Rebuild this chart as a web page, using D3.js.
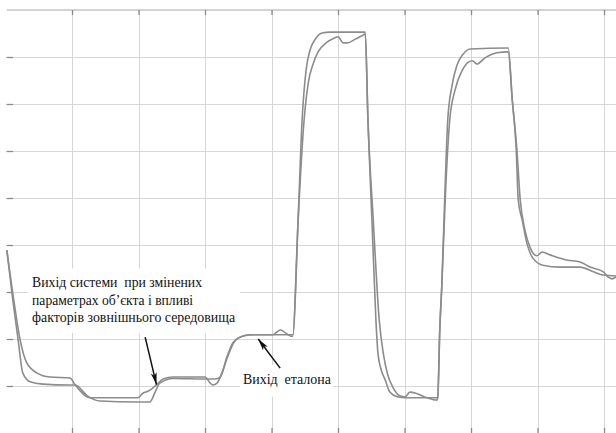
<!DOCTYPE html>
<html>
<head>
<meta charset="utf-8">
<script src="https://cdn.jsdelivr.net/npm/d3@7"></script>
<style>
  html, body { margin: 0; padding: 0; background: #fff; }
  svg { display: block; }
  .ax line { stroke: #8a8a8a; stroke-width: 1.3; }
  .ax path { display: none; }
  .ann { font-family: "Liberation Serif", "DejaVu Serif", serif; font-size: 15px; fill: #111; white-space: pre; }
</style>
</head>
<body>
<div id="chart"></div>
<script>
// grid positions (in grid units)
const xTicks = [1, 2, 3, 4, 5, 6, 7, 8, 9];
const yTicks = [1, 2, 3, 4, 5, 6, 7, 8];

// reference output ("Вихід еталона")
const refX = [0.02, 0.11, 0.19, 0.26, 0.37, 0.56, 0.97, 1.05, 1.23, 1.42, 1.99, 2.17, 2.25, 2.32, 2.52, 3.0, 3.15, 3.23, 3.33, 3.42, 3.53, 3.68, 4.32,
  4.40, 4.46, 4.52, 4.58, 4.65, 4.76, 4.88, 5.41,
  5.45, 5.51, 5.57, 5.60, 5.65, 5.71, 5.78, 5.89, 6.01, 6.49,
  6.50, 6.53, 6.56, 6.61, 6.65, 6.71, 6.79, 6.88, 6.99, 7.56,
  7.62, 7.68, 7.71, 7.77, 7.84, 7.93, 8.08, 8.34, 8.64, 8.84, 8.99, 9.18];
const refY = [3.89, 2.83, 1.98, 1.28, 1.09, 1.04, 1.02, 1.02, 0.79, 0.68, 0.66, 0.66, 0.87, 1.06, 1.16, 1.15, 1.15, 1.19, 1.62, 1.92, 2.04, 2.09, 2.09,
  4.53, 6.66, 7.72, 8.15, 8.36, 8.51, 8.53, 8.53,
  6.66, 4.53, 2.40, 1.70, 1.34, 1.13, 0.87, 0.77, 0.75, 0.75,
  0.75, 2.19, 3.11, 5.23, 6.66, 7.36, 7.83, 8.06, 8.17, 8.19,
  7.09, 6.02, 4.96, 4.53, 4.04, 3.72, 3.57, 3.53, 3.53, 3.43, 3.36, 3.34];

// system output with changed object parameters
const sysX = [0.02, 0.14, 0.22, 0.32, 0.47, 0.67, 0.97, 1.05, 1.27, 1.42, 1.99, 2.07, 2.14, 2.20, 2.28, 2.37, 2.52, 3.0, 3.08, 3.12, 3.18, 3.26, 3.35, 3.45, 3.56, 3.75, 4.02, 4.08, 4.14, 4.21, 4.29, 4.32,
  4.40, 4.49, 4.56, 4.62, 4.70, 4.82, 4.94, 5.0, 5.08, 5.14, 5.26, 5.38, 5.41,
  5.45, 5.53, 5.62, 5.68, 5.75, 5.83, 5.93, 6.01, 6.08, 6.20, 6.34, 6.49,
  6.50, 6.53, 6.56, 6.62, 6.68, 6.76, 6.87, 6.96, 7.02, 7.09, 7.21, 7.39, 7.56,
  7.62, 7.69, 7.74, 7.81, 7.89, 7.99, 8.07, 8.19, 8.44, 8.64, 8.79, 8.99, 9.06, 9.12, 9.18];
const sysY = [3.89, 2.68, 1.98, 1.49, 1.28, 1.19, 1.17, 1.02, 0.75, 0.75, 0.75, 0.85, 0.89, 0.94, 1.04, 1.15, 1.19, 1.19, 1.06, 1.02, 1.06, 1.30, 1.66, 1.96, 2.06, 2.09, 2.09, 2.15, 2.19, 2.13, 2.06, 2.06,
  4.53, 6.66, 7.51, 7.83, 8.11, 8.30, 8.40, 8.43, 8.30, 8.30, 8.38, 8.47, 8.49,
  6.66, 4.53, 2.40, 1.70, 1.23, 0.96, 0.79, 0.77, 0.87, 0.83, 0.75, 0.70,
  0.75, 2.19, 3.11, 5.23, 6.66, 7.30, 7.72, 7.89, 7.92, 7.85, 7.98, 8.09, 8.11,
  7.09, 6.02, 4.96, 4.32, 3.94, 3.77, 3.85, 3.79, 3.68, 3.64, 3.53, 3.43, 3.32, 3.28, 3.32];

// annotation texts
const sysLabel = ["Вихід системи  при змінених", "параметрах об\u2019єкта і впливі", "факторів зовнішнього середовища"];
const refLabel = "Вихід  еталона";

const width = 616;
const height = 433;

const svg = d3.select('#chart').append('svg')
  .attr('width', width)
  .attr('height', height);

const x = d3.scaleLinear().domain([0, 9.18]).range([5.5, 616]);
const y = d3.scaleLinear().domain([0, 9]).range([433, 10]);

// light grid (solid, thin)
const grid = svg.append('g').attr('class', 'grid');
grid.selectAll('line.gx')
  .data(xTicks)
  .enter()
  .append('line')
  .attr('x1', (d) => Math.round(x(d)) + 0.5).attr('x2', (d) => Math.round(x(d)) + 0.5)
  .attr('y1', y(9)).attr('y2', y(0))
  .attr('stroke', '#d6d6d6')
  .attr('stroke-width', 1);
grid.selectAll('line.gy')
  .data(yTicks)
  .enter()
  .append('line')
  .attr('x1', x(0)).attr('x2', width)
  .attr('y1', (d) => Math.round(y(d)) + 0.5).attr('y2', (d) => Math.round(y(d)) + 0.5)
  .attr('stroke', '#d6d6d6')
  .attr('stroke-width', 1);

// top border
svg.append('line')
  .attr('x1', x(0) + 1.5).attr('x2', width)
  .attr('y1', y(9)).attr('y2', y(9))
  .style('stroke', '#a8a8a8')
  .style('stroke-width', 1.2);

// tick marks
svg.append('g').attr('class', 'ax')
  .attr('transform', `translate(0,${y(9)})`)
  .call(d3.axisTop(x).tickValues(xTicks).tickSize(-5).tickFormat(''));
svg.append('g').attr('class', 'ax')
  .attr('transform', `translate(0,${y(0)})`)
  .call(d3.axisBottom(x).tickValues(xTicks).tickSize(-5).tickFormat(''));
svg.append('g').attr('class', 'ax')
  .attr('transform', `translate(${x(0) + 1.5},0)`)
  .call(d3.axisLeft(y).tickValues(yTicks).tickSize(-6).tickFormat(''));

// annotation backgrounds (they hide the grid)
svg.append('rect')
  .attr('x', x(0.34)).attr('y', y(3.5))
  .attr('width', x(3.53) - x(0.34)).attr('height', y(2.13) - y(3.5))
  .attr('fill', '#fff');
svg.append('rect')
  .attr('x', x(3.53)).attr('y', y(1.45))
  .attr('width', x(4.93) - x(3.53)).attr('height', y(0.77) - y(1.45))
  .attr('fill', '#fff');

const line = d3.line()
  .x((d) => x(d[0]))
  .y((d) => y(d[1]))
  .curve(d3.curveMonotoneX);

const series = [d3.zip(refX, refY), d3.zip(sysX, sysY)];

svg.selectAll('path.series')
  .data(series)
  .enter()
  .append('path')
  .attr('class', 'series')
  .attr('d', line)
  .style('fill', 'none')
  .style('stroke', '#8c8c8c')
  .style('stroke-width', 1.6)
  .style('stroke-linejoin', 'round');

// arrows
svg.append('defs').append('marker')
  .attr('id', 'head')
  .attr('viewBox', '0 0 12 6')
  .attr('refX', 12).attr('refY', 3)
  .attr('markerWidth', 12).attr('markerHeight', 6)
  .attr('markerUnits', 'userSpaceOnUse')
  .attr('orient', 'auto')
  .append('path')
  .attr('d', 'M0,0 L12,3 L0,6 L3,3 Z')
  .attr('fill', '#111');

const arrows = [
  [[2.10, 2.04], [2.27, 1.03]],
  [[4.13, 1.38], [3.80, 2.00]]
];
svg.selectAll('line.arrow')
  .data(arrows)
  .enter()
  .append('line')
  .attr('class', 'arrow')
  .attr('x1', (d) => x(d[0][0])).attr('y1', (d) => y(d[0][1]))
  .attr('x2', (d) => x(d[1][0])).attr('y2', (d) => y(d[1][1]))
  .style('stroke', '#111')
  .style('stroke-width', 1.5)
  .attr('marker-end', 'url(#head)');

// texts
const lineWidths = [170, 161, 203];
svg.selectAll('text.sys')
  .data(sysLabel)
  .enter()
  .append('text')
  .attr('class', 'ann sys')
  .attr('x', x(0.4))
  .attr('y', (d, i) => y(3.1) + i * 17.5)
  .attr('textLength', (d, i) => lineWidths[i])
  .attr('lengthAdjust', 'spacingAndGlyphs')
  .text((d) => d);

svg.append('text')
  .attr('class', 'ann')
  .attr('x', x(3.57))
  .attr('y', y(1.04))
  .attr('textLength', 88)
  .attr('lengthAdjust', 'spacingAndGlyphs')
  .text(refLabel);
</script>
</body>
</html>
